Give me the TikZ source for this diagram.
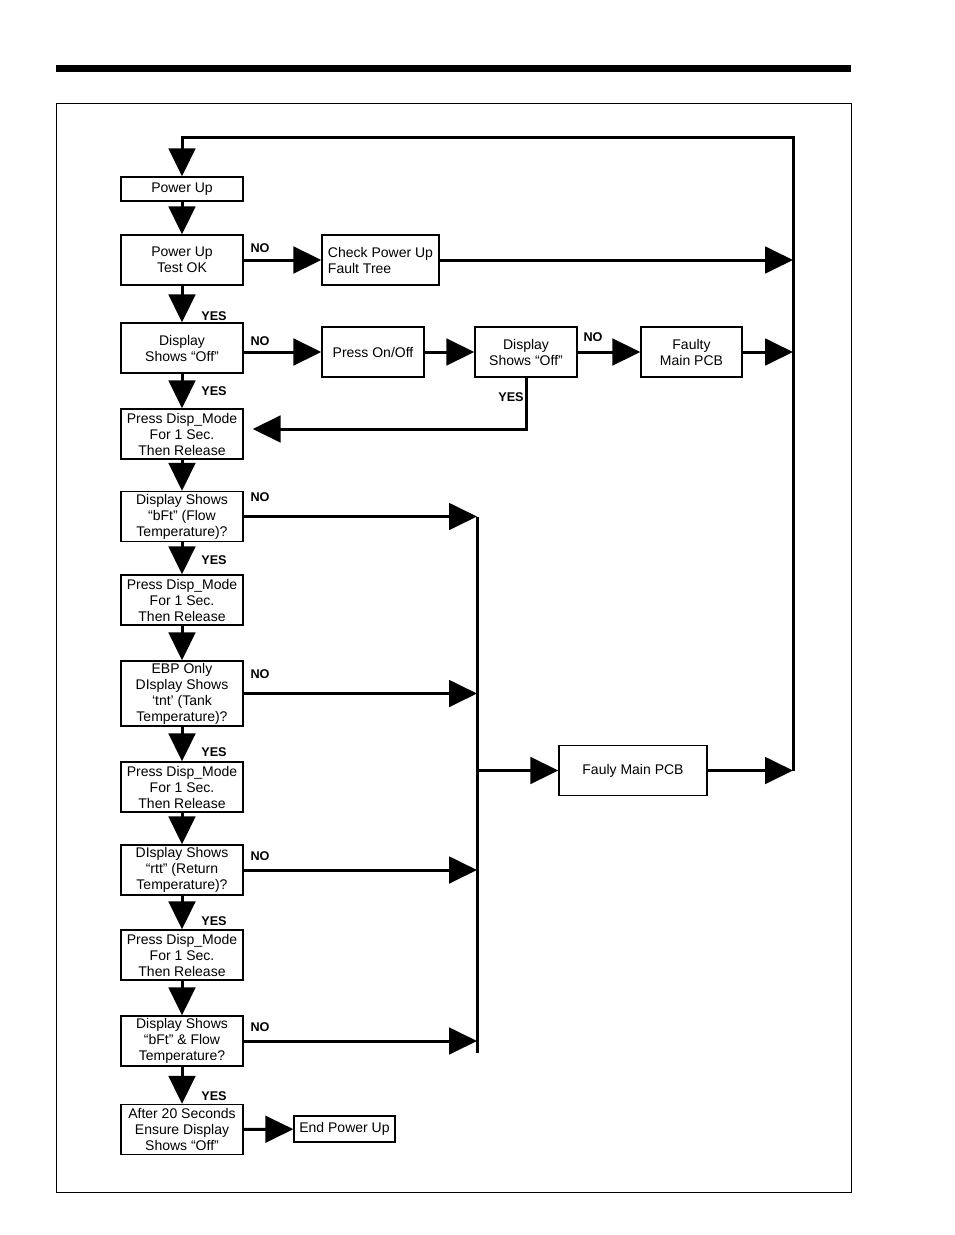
\documentclass[tikz,border=0pt]{standalone}
\usepackage{fontspec}
\setmainfont{Liberation Sans}
\usetikzlibrary{arrows.meta,positioning}

\begin{document}
\begin{tikzpicture}[
    x=0.75pt,
    y=-0.75pt,
    box/.style={
        rectangle,
        draw=black,
        line width=1pt,
        inner sep=0pt,
        align=center,
        font=\fontsize{10.5}{12}\selectfont,
        minimum width=91.5pt,
        minimum height=37.5pt
    },
    arrow/.style={
        line width=2.25pt,
        -{Triangle[length=21pt,width=20pt]}
    },
    line/.style={
        line width=2.25pt
    },
    answer/.style={
        font=\bfseries\fontsize{9.5}{11}\selectfont,
        inner sep=0pt
    }
]
\useasboundingbox (0,0) rectangle (954,1235);

% Bara de sus si chenarul
\fill (56,65) rectangle (851,72);
\draw[line width=0.75pt] (56,103) rectangle (851,1192);

% Coloana principala
\node[box, minimum height=18pt] (pwr) at (182,189) {Power Up};
\node[box] (test) at (182,260) {Power Up\\Test OK};
\node[box] (off) at (182,348) {Display\\Shows “Off”};
\node[box] (mode1) at (182,434) {Press Disp\_Mode\\For 1 Sec.\\Then Release};
\node[box] (bft) at (182,516.5) {Display Shows\\“bFt” (Flow\\Temperature)?};
\node[box] (mode2) at (182,600) {Press Disp\_Mode\\For 1 Sec.\\Then Release};
\node[box, minimum height=48.75pt] (tnt) at (182,693.5) {EBP Only\\DIsplay Shows\\‘tnt’ (Tank\\Temperature)?};
\node[box] (mode3) at (182,787) {Press Disp\_Mode\\For 1 Sec.\\Then Release};
\node[box] (rtt) at (182,870) {DIsplay Shows\\“rtt” (Return\\Temperature)?};
\node[box] (mode4) at (182,955) {Press Disp\_Mode\\For 1 Sec.\\Then Release};
\node[box] (flow) at (182,1041) {Display Shows\\“bFt” \& Flow\\Temperature?};
\node[box] (wait) at (182,1129.5) {After 20 Seconds\\Ensure Display\\Shows “Off”};
\node[box, minimum width=75.75pt, minimum height=19.5pt] (end) at (344.5,1129) {End Power Up};

% Ramurile din dreapta
\node[box, minimum width=87.75pt, align=left] (fault) at (380.5,260) {Check Power Up\\Fault Tree};
\node[box, minimum width=76.5pt] (onoff) at (373,352) {Press On/Off};
\node[box, minimum width=76.5pt] (off2) at (526,352) {Display\\Shows “Off”};
\node[box, minimum width=75.75pt] (pcb) at (691.5,352) {Faulty\\Main PCB};
\node[box, minimum width=111pt] (pcb2) at (633,770.5) {Fauly Main PCB};

% Puncte pentru bare
\coordinate (bustop) at (477,517);
\coordinate (busbot) at (477,1053);
\coordinate (rtop) at (793,137);
\coordinate (rbot) at (793,771);

% Sagetile pe coloana
\draw[arrow] (pwr) -- (test);
\draw[arrow] (test) -- (off);
\draw[arrow] (off) -- (mode1);
\draw[arrow] (mode1) -- (bft);
\draw[arrow] (bft) -- (mode2);
\draw[arrow] (mode2) -- (tnt);
\draw[arrow] (tnt) -- (mode3);
\draw[arrow] (mode3) -- (rtt);
\draw[arrow] (rtt) -- (mode4);
\draw[arrow] (mode4) -- (flow);
\draw[arrow] (flow) -- (wait);
\draw[arrow] (wait) -- (end);

% Sagetile orizontale de sus
\draw[arrow] (test) -- (fault);
\draw[arrow] (off.east |- onoff) -- (onoff);
\draw[arrow] (onoff) -- (off2);
\draw[arrow] (off2) -- (pcb);
\draw[arrow, shorten >=6.75pt] (off2.south) |- ([yshift=3.75pt]mode1.east);

% Bara dreapta si bucla de intoarcere
\draw[arrow] (fault.east) -- (fault.east -| rtop);
\draw[arrow] (pcb.east) -- (pcb.east -| rtop);
\draw[arrow] (pcb2.east) -- (pcb2.east -| rbot);
\draw[arrow] (rbot) -- (rtop) -| (pwr.north);

% Bara din mijloc
\draw[line] (bustop) -- (busbot);
\draw[arrow] (bft.east) -- (bft.east -| bustop);
\draw[arrow] (tnt.east) -- (tnt.east -| bustop);
\draw[arrow] (rtt.east) -- (rtt.east -| bustop);
\draw[arrow] (flow.east) -- (flow.east -| bustop);
\draw[arrow] (pcb2.west -| bustop) -- (pcb2.west);

% Etichete DA / NU
\node[answer] (no1) at (260,248) {NO};
\node[answer] (no2) at (260,341) {NO};
\node[answer] (no3) at (593,337) {NO};
\node[answer] (no4) at (260,497) {NO};
\node[answer] (no5) at (260,674) {NO};
\node[answer] (no6) at (260,856) {NO};
\node[answer] (no7) at (260,1027) {NO};
\node[answer] (yes1) at (214,316) {YES};
\node[answer] (yes2) at (214,391) {YES};
\node[answer] (yes3) at (511,397) {YES};
\node[answer] (yes4) at (214,560) {YES};
\node[answer] (yes5) at (214,752) {YES};
\node[answer] (yes6) at (214,921) {YES};
\node[answer] (yes7) at (214,1096) {YES};

\end{tikzpicture}
\end{document}
